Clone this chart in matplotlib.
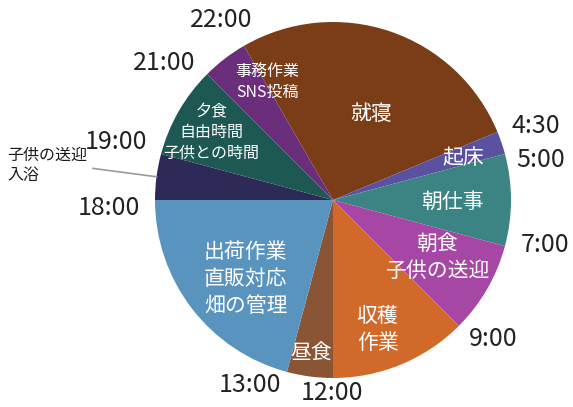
import numpy as np
import matplotlib
matplotlib.use("Agg")
import matplotlib.pyplot as plt

plt.rcParams['font.family'] = ['Noto Sans CJK JP', 'DejaVu Sans']

# Data: activity slices (start hour, end hour)
activities = ["就寝", "起床", "朝仕事", "朝食\n子供の送迎", "収穫\n作業", "昼食",
              "出荷作業\n直販対応\n畑の管理", "子供の送迎\n入浴", "夕食\n自由時間\n子供との時間",
              "事務作業\nSNS投稿"]
start_hours = [22.0, 4.5, 5.0, 7.0, 9.0, 12.0, 13.0, 18.0, 19.0, 21.0]
end_hours = [28.5, 5.0, 7.0, 9.0, 12.0, 13.0, 18.0, 19.0, 21.0, 22.0]
durations = [e - s for s, e in zip(start_hours, end_hours)]
colors = ["#7a3d17", "#5a52a0", "#3c8484", "#a647a6", "#d0692a", "#8a5535",
          "#5994bf", "#2e2a58", "#1e5853", "#6a2e7b"]

tick_hours = [22.0, 4.5, 5.0, 7.0, 9.0, 12.0, 13.0, 18.0, 19.0, 21.0]
tick_labels = ["22:00", "4:30", "5:00", "7:00", "9:00", "12:00", "13:00", "18:00", "19:00", "21:00"]

# style: (radius factor, angle shift deg) for time labels
tick_style = [(1.19, -1.7), (1.21, 2.5), (1.19, 4), (1.22, -3), (1.19, -4),
              (1.085, 0.3), (1.14, 9), (1.26, -2), (1.26, 0), (1.22, -6)]
# style for inside labels: (radius factor, angle shift, fontsize)
label_style = [(0.53, 5, 15), (0.77, 1, 15), (0.67, 1, 15), (0.67, -1, 15),
               (0.77, 3.5, 15), (0.87, 0.5, 15), (0.66, -4.5, 15), None,
               (0.78, -1, 11.5), (0.76, 8.5, 11.5)]

fig = plt.figure(figsize=(5.73, 4.07), dpi=100)
ax = fig.add_axes([0, 0, 1, 1])

# pie: clockwise from top (0:00 at top); rotate so the first slice starts at 22:00
start_angle = 90 - start_hours[0] / 24 * 360
ax.pie(durations, colors=colors, startangle=start_angle, counterclock=False,
       radius=1.0, center=(0, 0), wedgeprops=dict(linewidth=0))

def pos(hour, r, shift=0.0):
    th = np.deg2rad(hour / 24 * 360 + shift)
    return r * np.sin(th), r * np.cos(th)

for h, lab, (r, sh) in zip(tick_hours, tick_labels, tick_style):
    x, y = pos(h, r, sh)
    ax.text(x, y, lab, ha='center', va='center', fontsize=18, color='#222222')

for s, e, lab, st in zip(start_hours, end_hours, activities, label_style):
    mid = (s + e) / 2
    if st is None:
        # outside label with leader line
        x0, y0 = pos(mid, 1.0)
        x1, y1 = pos(mid, 1.36)
        ax.plot([x1, x0], [y1, y0], color='#9a9a9a', lw=1.2)
        ax.text(-1.83, y1 + 0.015, lab, ha='left', va='center', fontsize=11.5,
                color='#1a1a1a', linespacing=1.25)
        continue
    r, sh, fs = st
    x, y = pos(mid, r, sh)
    ax.text(x, y, lab, ha='center', va='center', fontsize=fs, color='white',
            linespacing=1.3)

R = 178.0
ax.set_xlim(-333 / R, (573 - 333) / R)
ax.set_ylim(-(407 - 200) / R, 200 / R)
ax.set_aspect('auto')
ax.axis('off')

fig.savefig("out.png", dpi=100, facecolor='white')
